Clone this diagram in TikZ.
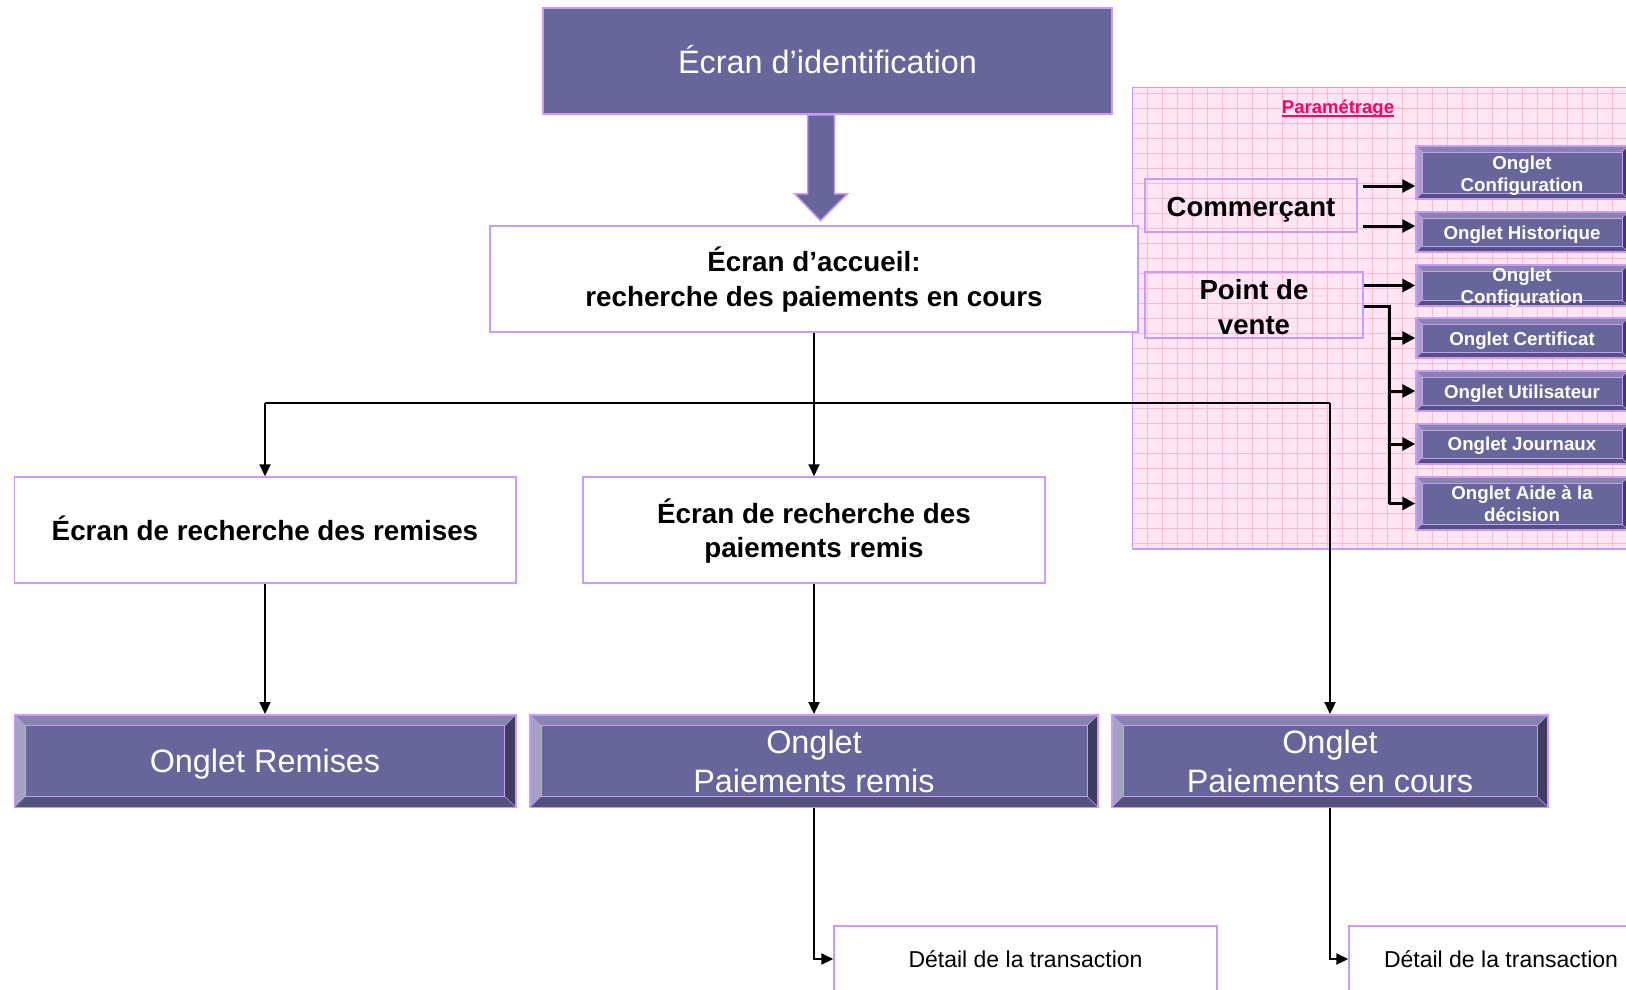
\documentclass[tikz,border=0pt]{standalone}
\usepackage{fontspec}
\setmainfont{Liberation Sans}
\usetikzlibrary{arrows.meta}
\definecolor{face}{HTML}{67669A}
\definecolor{lav}{HTML}{CC99FF}
\definecolor{bvtop}{HTML}{8785AE}
\definecolor{bvleft}{HTML}{A3A2C3}
\definecolor{bvbot}{HTML}{53527C}
\definecolor{bvright}{HTML}{3E3D5E}
\definecolor{pinkbg}{HTML}{FFE6F2}
\definecolor{pinkgrid}{HTML}{F6BCD8}
\definecolor{titlered}{HTML}{FF0066}
\newcommand{\mylower}[2]{\raisebox{-#1}[\height][\depth]{#2}}
\tikzset{
  bevelbox/.style={fill=face, draw=lav, line width=1.5pt, text=white, inner sep=0pt, align=center,
    path picture={
      \fill[bvtop] (path picture bounding box.north west) -- (path picture bounding box.north east)
        -- ([shift={(-#1,-#1)}]path picture bounding box.north east) -- ([shift={(#1,-#1)}]path picture bounding box.north west) -- cycle;
      \fill[bvleft] (path picture bounding box.north west) -- ([shift={(#1,-#1)}]path picture bounding box.north west)
        -- ([shift={(#1,#1)}]path picture bounding box.south west) -- (path picture bounding box.south west) -- cycle;
      \fill[bvbot] (path picture bounding box.south west) -- ([shift={(#1,#1)}]path picture bounding box.south west)
        -- ([shift={(-#1,#1)}]path picture bounding box.south east) -- (path picture bounding box.south east) -- cycle;
      \fill[bvright] (path picture bounding box.north east) -- (path picture bounding box.south east)
        -- ([shift={(-#1,#1)}]path picture bounding box.south east) -- ([shift={(-#1,-#1)}]path picture bounding box.north east) -- cycle;
      \draw[lav, line width=1pt] ([shift={(#1,-#1)}]path picture bounding box.north west) rectangle ([shift={(-#1,#1)}]path picture bounding box.south east);
      \draw[lav, line width=0.6pt] (path picture bounding box.north west) -- ([shift={(#1,-#1)}]path picture bounding box.north west)
        (path picture bounding box.north east) -- ([shift={(-#1,-#1)}]path picture bounding box.north east)
        (path picture bounding box.south west) -- ([shift={(#1,#1)}]path picture bounding box.south west)
        (path picture bounding box.south east) -- ([shift={(-#1,#1)}]path picture bounding box.south east);
    }},
  whitebox/.style={fill=white, draw=lav, line width=1.5pt, inner sep=0pt, align=center},
  openbox/.style={draw=lav, line width=1.5pt, inner sep=0pt, align=center},
  panel/.style={fill=pinkbg, draw=lav, line width=1.5pt, inner sep=0pt,
    path picture={\draw[pinkgrid, line width=0.6pt, step=15pt] (path picture bounding box.south west) grid (path picture bounding box.north east);}},
  arr/.style={line width=2.2pt, -{Triangle[length=12pt,width=11pt]}},
  conn/.style={line width=2.2pt},
  parr/.style={line width=3pt, -{Triangle[length=13pt,width=13pt]}},
  bigfont/.style={font=\fontsize{32.4}{38.5}\selectfont},
  boldfont/.style={font=\fontsize{27.8}{35.5}\selectfont\bfseries},
  smallfont/.style={font=\fontsize{18.7}{21.6}\selectfont\bfseries},
}
\begin{document}
\begin{tikzpicture}[x=1pt, y=-1pt]
\clip (0,0) rectangle (1626,989);
\fill[white] (0,0) rectangle (1626,989);

% Parametrage panel
\node[panel, minimum width=510pt, minimum height=461.3pt, anchor=north west] (param) at (1131.7,86.7) {};
\node[inner sep=0pt, text=titlered, font=\fontsize{18.5}{22}\selectfont\bfseries] (ptitle) at (1338,109) {Paramétrage};
\draw[titlered, line width=1.3pt] ([yshift=-2.2pt]ptitle.base west) -- ([yshift=-2.2pt]ptitle.base east);

% top
\node[fill=face, draw=lav, line width=1.5pt, text=white, bigfont, minimum width=569pt, minimum height=106pt, inner sep=0pt] (ident) at (827.5,61) {\mylower{-1pt}{Écran d’identification}};
\node[whitebox, boldfont, minimum width=648pt, minimum height=106pt] (accueil) at (814,279) {\mylower{1pt}{Écran d’accueil:}\\recherche des paiements en cours};
\draw[fill=face, draw=lav, line width=1.5pt]
  ([xshift=-20pt]ident.south) -- ([xshift=-20pt,yshift=-79pt]ident.south) -- ([xshift=-33pt,yshift=-79pt]ident.south)
  -- ([xshift=-7pt,yshift=-106pt]ident.south) -- ([xshift=20pt,yshift=-79pt]ident.south)
  -- ([xshift=7pt,yshift=-79pt]ident.south) -- ([xshift=7pt]ident.south) -- cycle;

% search screens
\node[whitebox, boldfont, minimum width=501.5pt, minimum height=106pt] (rremises) at (265,530) {\mylower{-2pt}{Écran de recherche des remises}};
\node[whitebox, font=\fontsize{27.8}{34}\selectfont\bfseries, minimum width=462pt, minimum height=106pt] (rpaie) at (814,530) {\mylower{1pt}{Écran de recherche des}\\\mylower{1pt}{paiements remis}};

% tabs
\node[bevelbox=11pt, bigfont, minimum width=501.5pt, minimum height=92.5pt] (oremises) at (265,761) {\mylower{3pt}{Onglet Remises}};
\node[bevelbox=11pt, bigfont, minimum width=568pt, minimum height=92.5pt] (opaie) at (814,761) {Onglet\\\mylower{1pt}{Paiements remis}};
\node[bevelbox=11pt, bigfont, minimum width=436pt, minimum height=92.5pt] (ocours) at (1330,761) {Onglet\\\mylower{1pt}{Paiements en cours}};

% detail
\node[whitebox, font=\fontsize{23}{28}\selectfont, minimum width=383pt, minimum height=66pt] (detail1) at (1025.5,959) {Détail de la transaction};
\node[whitebox, font=\fontsize{23}{28}\selectfont, minimum width=304pt, minimum height=66pt] (detail2) at (1501,959) {Détail de la transaction};

% panel content
\node[openbox, font=\fontsize{27.6}{34.5}\selectfont\bfseries, minimum width=212pt, minimum height=53pt] (comm) at (1251,205.5) {\mylower{4pt}{Commerçant}};
\node[openbox, font=\fontsize{27.6}{34.5}\selectfont\bfseries, minimum width=218pt, minimum height=66pt] (pdv) at (1254,305) {\mylower{2pt}{Point de}\\\mylower{2pt}{vente}};

\node[bevelbox=6pt, smallfont, minimum width=212pt, minimum height=53pt] (c1) at (1522,172.5) {\mylower{3pt}{Onglet}\\\mylower{3pt}{Configuration}};
\node[bevelbox=6pt, smallfont, minimum width=212pt, minimum height=40pt] (hist) at (1522,232) {\mylower{3pt}{Onglet Historique}};
\node[bevelbox=6pt, smallfont, minimum width=212pt, minimum height=41pt] (c2) at (1522,285.5) {\mylower{2pt}{Onglet}\\\mylower{2pt}{Configuration}};
\node[bevelbox=6pt, smallfont, minimum width=212pt, minimum height=40pt] (cert) at (1522,338) {\mylower{3pt}{Onglet Certificat}};
\node[bevelbox=6pt, smallfont, minimum width=212pt, minimum height=40pt] (util) at (1522,391) {\mylower{3pt}{Onglet Utilisateur}};
\node[bevelbox=6pt, smallfont, minimum width=212pt, minimum height=40pt] (journ) at (1522,444) {\mylower{2pt}{Onglet Journaux}};
\node[bevelbox=6pt, smallfont, minimum width=212pt, minimum height=53pt] (aide) at (1522,503.5) {Onglet Aide à la\\décision};

% panel arrows
\coordinate (ya) at (0,186);
\coordinate (yb) at (0,226);
\coordinate (bx) at (1389,306);
\draw[parr] ([xshift=5pt]comm.east |- ya) -- (c1.west |- ya);
\draw[parr] ([xshift=5pt]comm.east |- yb) -- (hist.west |- yb);
\draw[parr] (pdv.east |- c2.west) -- (c2.west);
\draw[line width=3pt] (pdv.east |- bx) -- (bx) -- (bx |- aide.west);
\draw[parr] (bx |- cert.west) -- (cert.west);
\draw[parr] (bx |- util.west) -- (util.west);
\draw[parr] (bx |- journ.west) -- (journ.west);
\draw[parr] (bx |- aide.west) -- (aide.west);

% main connectors
\coordinate (hy) at (0,403);
\draw[arr] (accueil.south) -- (rpaie.north);
\draw[conn] (rremises.north |- hy) -- (ocours.north |- hy);
\draw[arr] (rremises.north |- hy) -- (rremises.north);
\draw[arr] (ocours.north |- hy) -- (ocours.north);
\draw[arr] (rremises.south) -- (oremises.north);
\draw[arr] (rpaie.south) -- (opaie.north);
\draw[arr] (opaie.south) |- (detail1.west);
\draw[arr] (ocours.south) |- (detail2.west);
\end{tikzpicture}
\end{document}
